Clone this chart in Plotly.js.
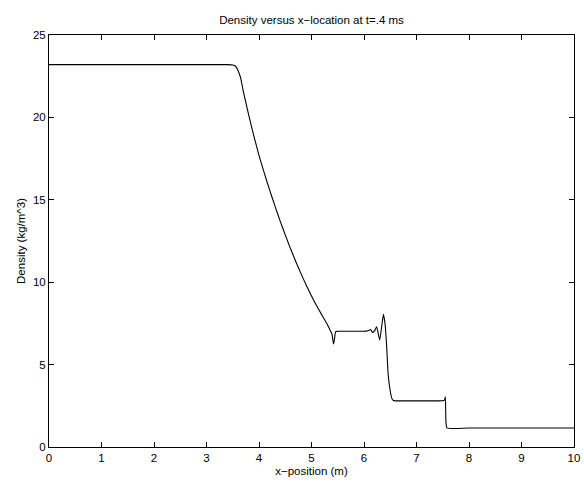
<!DOCTYPE html>
<html>
<head>
<meta charset="utf-8">
<script src="https://cdn.plot.ly/plotly-3.0.1.min.js"></script>
<style>html,body{margin:0;padding:0;background:#fff;}#chart{width:584px;height:487px;}</style>
</head>
<body>
<div id="chart"></div>
<script>
// Position (m)
const xPosition = [0, 0.5, 1, 1.5, 2, 2.5, 3, 3.4, 3.5, 3.55, 3.6, 3.65, 3.7, 3.8, 3.9, 4.0, 4.1, 4.2, 4.3, 4.4, 4.5, 4.6, 4.7, 4.8, 4.9, 5.0, 5.1, 5.2, 5.3, 5.36, 5.39, 5.42, 5.44, 5.46, 5.5, 5.7, 5.9, 6.05, 6.1, 6.13, 6.16, 6.2, 6.24, 6.27, 6.3, 6.34, 6.37, 6.4, 6.43, 6.46, 6.5, 6.53, 6.56, 6.6, 6.8, 7.0, 7.2, 7.4, 7.52, 7.54, 7.55, 7.56, 7.58, 8, 9, 10];
// Density (kg/m^3)
const density = [23.2, 23.2, 23.2, 23.2, 23.2, 23.2, 23.2, 23.2, 23.18, 23.12, 22.85, 22.4, 21.6, 20.2, 18.9, 17.7, 16.63, 15.62, 14.66, 13.74, 12.87, 12.04, 11.26, 10.52, 9.82, 9.16, 8.55, 8.0, 7.45, 7.05, 6.85, 6.25, 6.6, 7.0, 7.02, 7.02, 7.02, 7.03, 7.08, 7.12, 6.95, 7.05, 7.3, 6.9, 6.5, 7.4, 8.05, 7.5, 6.2, 4.4, 3.4, 2.95, 2.82, 2.8, 2.8, 2.8, 2.8, 2.8, 2.82, 2.9, 3.05, 1.6, 1.16, 1.15, 1.15, 1.15];

const xTicks = [0,1,2,3,4,5,6,7,8,9,10];
const yTicks = [0,5,10,15,20,25];

const fontFam = 'Liberation Sans, Arial, Helvetica, sans-serif';

const trace = {
  x: xPosition, y: density, type: 'scatter', mode: 'lines',
  line: {color: '#000', width: 1.1, shape: 'spline', smoothing: 0.5},
  hoverinfo: 'skip'
};

const axisCommon = {
  showgrid: false, zeroline: false, showline: true, linecolor: '#000', linewidth: 1,
  ticks: 'inside', ticklen: 5, tickwidth: 1, tickcolor: '#000', mirror: 'ticks',
  tickfont: {family: fontFam, size: 11.5, color: '#000'}
};

const layout = {
  width: 584, height: 487,
  margin: {l: 49, r: 10, t: 35, b: 40},
  paper_bgcolor: '#fff', plot_bgcolor: '#fff',
  showlegend: false,
  font: {family: fontFam, color: '#000'},
  title: {text: 'Density versus x\u2212location at t=.4 ms', font: {family: fontFam, size: 11.5, color: '#000'},
          x: 0.5, xref: 'paper', y: 1 - 20/487, yref: 'container', yanchor: 'middle'},
  xaxis: Object.assign({}, axisCommon, {
    range: [0, 10], tickvals: xTicks, ticktext: xTicks.map(String),
    title: {text: 'x\u2212position (m)', font: {family: fontFam, size: 11.5, color: '#000'}, standoff: 4}
  }),
  yaxis: Object.assign({}, axisCommon, {
    range: [0, 25], tickvals: yTicks, ticktext: yTicks.map(String),
    title: {text: 'Density (kg/m^3)', font: {family: fontFam, size: 11.5, color: '#000'}, standoff: 4}
  })
};

Plotly.newPlot('chart', [trace], layout, {displayModeBar: false, staticPlot: true});
</script>
</body>
</html>
